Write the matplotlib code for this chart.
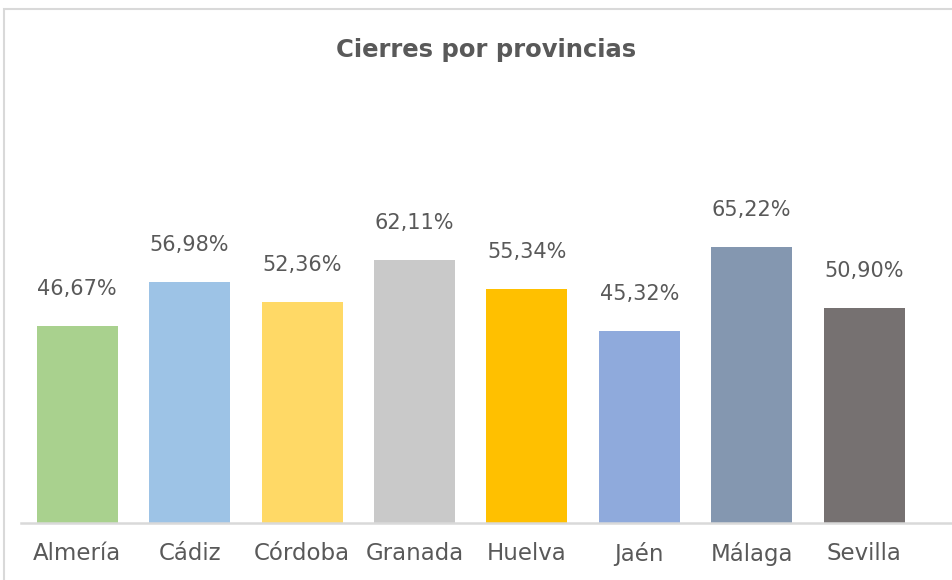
import matplotlib.pyplot as plt
from matplotlib.patches import Rectangle

provincias = ['Almería', 'Cádiz', 'Córdoba', 'Granada', 'Huelva', 'Jaén', 'Málaga', 'Sevilla']
cierres = [46.67, 56.98, 52.36, 62.11, 55.34, 45.32, 65.22, 50.90]
colores = ['#A9D18E', '#9DC3E6', '#FFD966', '#C9C9C9', '#FFC000', '#8FAADC', '#8497B0', '#767171']

W, H = 953, 580
gris = '#595959'

fig = plt.figure(figsize=(W / 100, H / 100), dpi=100)
# marco del grafico
fig.patches.append(Rectangle((4 / W, -0.1), 1.2, 1.1 - 9 / H, transform=fig.transFigure,
                             fill=False, edgecolor='#D9D9D9', linewidth=1.5))

left, right, bottom, top = 21 / W, 1.0, 1 - 523 / H, 1 - 100 / H
ax = fig.add_axes([left, bottom, right - left, top - bottom])
x = range(len(provincias))
bars = ax.bar(x, cierres, width=81 / 112.4, color=colores)
ax.set_ylim(0, 100)
ax.set_xlim(-0.5, -0.5 + (W - 21) / 112.4)

for b, v in zip(bars, cierres):
    ax.annotate(f'{v:.2f}%'.replace('.', ','), (b.get_x() + b.get_width() / 2, v),
                xytext=(0, 27), textcoords='offset pixels', ha='center', va='bottom',
                fontsize=15, color=gris)

for s in ['top', 'right', 'left']:
    ax.spines[s].set_visible(False)
ax.spines['bottom'].set_color('#D9D9D9')
ax.spines['bottom'].set_linewidth(1.8)
ax.set_yticks([])
ax.set_xticks(list(x))
ax.set_xticklabels(provincias, fontsize=16.5, color=gris)
ax.tick_params(axis='x', length=0, pad=14)

fig.text(486 / W, 1 - 50 / H, 'Cierres por provincias', ha='center', va='center',
         fontsize=17.5, fontweight='bold', color=gris)

fig.savefig('out.png', dpi=100)
